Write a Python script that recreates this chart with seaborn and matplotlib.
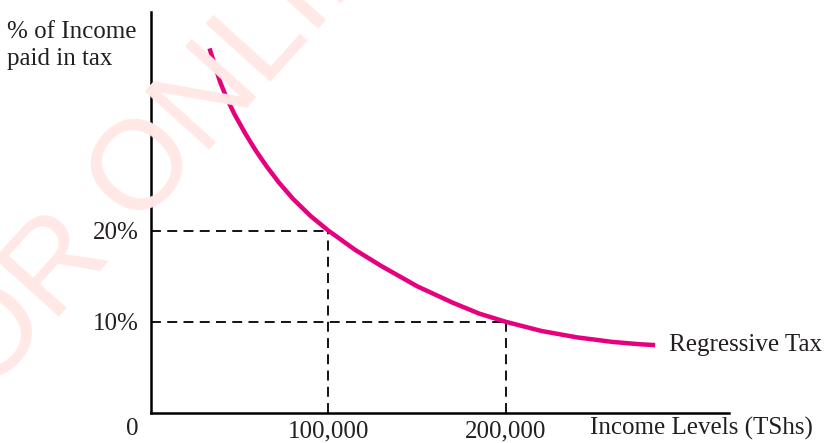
import numpy as np
import pandas as pd
import matplotlib
matplotlib.use("Agg")
import matplotlib.pyplot as plt
import seaborn as sns

# curve (income in TShs, % of income paid in tax)
income = [33000, 36000, 39000, 42500, 47000, 53000, 59000, 65000, 72000, 80000,
          90000, 100000, 115000, 130000, 150000, 170000, 185000, 200000,
          220000, 240000, 260000, 275000, 284000]
tax_pct = [40.0, 38.1, 36.3, 34.6, 32.8, 30.7, 28.8, 27.1, 25.3, 23.5,
           21.6, 20.0, 17.9, 16.1, 13.9, 12.1, 10.9, 10.0,
           9.0, 8.3, 7.8, 7.55, 7.45]

ref_income = [100000, 200000]
ref_pct = [20, 10]
ref_income_labels = ["100,000", "200,000"]
ref_pct_labels = ["20%", "10%"]

df = pd.DataFrame({"income": income, "tax": tax_pct})

sns.set_style("white")
plt.rcParams['font.family'] = ['Liberation Serif', 'DejaVu Serif']

fig = plt.figure(figsize=(8.25, 4.43), dpi=100)
ax = fig.add_axes([0.183, 0.0677, 0.7006, 0.9053])
ax.patch.set_alpha(0)

# faint watermark behind everything
fig.text(-0.079, -0.025, "FOR ONLINE USE ONLY", rotation=48, rotation_mode="anchor",
         ha="left", va="baseline", fontsize=91, color="#ffe8e6",
         family="Liberation Sans", zorder=0)

sns.lineplot(data=df, x="income", y="tax", color="#e6007e", linewidth=3.2,
             ax=ax, sort=False, zorder=3)
ax.lines[-1].set_solid_joinstyle("round")
ax.lines[-1].set_solid_capstyle("butt")

for xi, yi in zip(ref_income, ref_pct):
    ax.plot([0, xi], [yi, yi], color="black", lw=1.3, ls=(0, (5.5, 3.5)), zorder=2)
    ax.plot([xi, xi], [0, yi], color="black", lw=1.3, ls=(0, (5.5, 3.5)), zorder=2)

ax.set_xlim(0, 325600)
ax.set_ylim(0, 44)
sns.despine(ax=ax)
for s in ["left", "bottom"]:
    ax.spines[s].set_linewidth(1.8)
    ax.spines[s].set_color("black")

ax.set_xticks(ref_income)
ax.set_xticklabels(ref_income_labels)
ax.set_yticks(ref_pct)
ax.set_yticklabels(ref_pct_labels)
ax.tick_params(length=0, labelsize=18, colors="#231f20")
ax.tick_params(axis="y", pad=9)
ax.tick_params(axis="x", pad=5)
ax.set_xlabel("")
ax.set_ylabel("")

fig.text(0.16, 0.006, "0", ha="center", va="bottom", fontsize=18, color="#231f20")
fig.text(0.715, 0.006, "Income Levels (TShs)", ha="left", va="bottom",
         fontsize=18, color="#231f20")
fig.text(0.009, 0.953, "% of Income\npaid in tax", ha="left", va="top",
         fontsize=18, color="#231f20", linespacing=1.3)
ax.text(292000, 7.45, "Regressive Tax", ha="left", va="center",
        fontsize=18, color="#231f20")

fig.savefig("out.png", dpi=100)
